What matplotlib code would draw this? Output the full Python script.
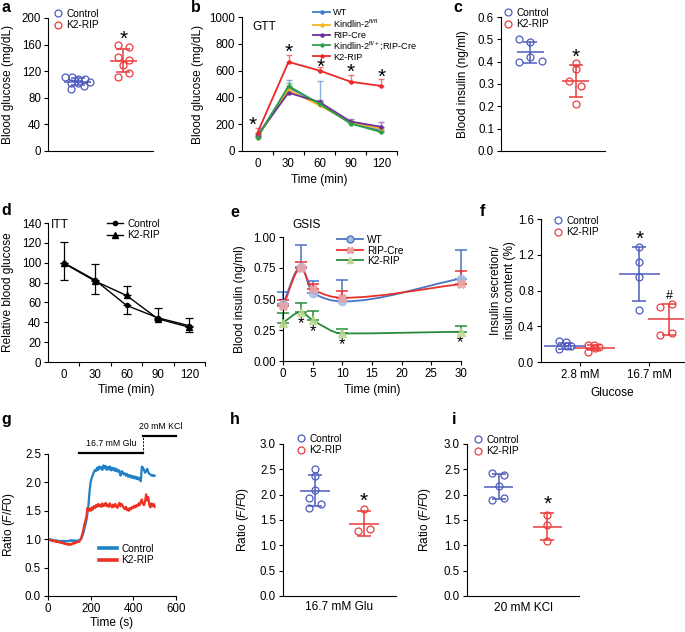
import numpy as np
import matplotlib
matplotlib.use('Agg')
import matplotlib.pyplot as plt
from matplotlib.lines import Line2D
from matplotlib.path import Path
from matplotlib.patches import PathPatch

plt.rcParams['font.family'] = ['Liberation Sans', 'DejaVu Sans']
plt.rcParams['mathtext.fontset'] = 'custom'
plt.rcParams['mathtext.rm'] = 'Liberation Sans'
plt.rcParams['mathtext.it'] = 'Liberation Sans:italic'
plt.rcParams['font.size'] = 8
plt.rcParams['axes.linewidth'] = 0.8

# ---------------- data ----------------
# a: fasting blood glucose
a_ctrl = [111, 111, 108.5, 108, 102, 104.5, 98, 93.5, 103]
a_k2 = [159, 156, 142, 137, 129, 118, 112]
a_mean = [104, 136]
a_sd = [5.5, 17]

# b: GTT
gtt_time = [0, 30, 60, 90, 120]
gtt_names = ['WT', r'Kindlin-2$^{\mathrm{fl/fl}}$', 'RIP-Cre',
             r'Kindlin-2$^{\mathrm{fl/+}}$;RIP-Cre', 'K2-RIP']
gtt_wt = [112, 474, 355, 210, 150]
gtt_flfl = [105, 455, 340, 215, 165]
gtt_ripcre = [115, 435, 365, 220, 180]
gtt_flplus = [100, 485, 352, 205, 140]
gtt_k2 = [136, 665, 600, 517, 485]
gtt_wt_err = [15, 55, 170, 15, 15]
gtt_flfl_err = [12, 20, 15, 12, 15]
gtt_ripcre_err = [12, 15, 15, 20, 35]
gtt_flplus_err = [10, 25, 15, 10, 12]
gtt_k2_err = [33, 50, 28, 50, 50]

# c: blood insulin
c_ctrl = [0.500, 0.488, 0.421, 0.399, 0.402]
c_k2 = [0.392, 0.365, 0.314, 0.293, 0.210]
c_mean = [0.442, 0.315]
c_sd = [0.046, 0.071]

# d: ITT
itt_time = [0, 30, 60, 90, 120]
itt_ctrl = [100, 82.5, 57, 44.5, 36.5]
itt_k2 = [99.5, 81.5, 67, 43.5, 35]
itt_ctrl_err = [17, 14, 9, 2, 6]
itt_k2_err = [21, 17, 9.5, 10.5, 9]

# e: GSIS
gsis_time = [0, 3, 5, 10, 30]
gsis_wt = [0.46, 0.76, 0.55, 0.48, 0.665]
gsis_ripcre = [0.44, 0.75, 0.58, 0.51, 0.62]
gsis_k2 = [0.31, 0.395, 0.33, 0.222, 0.236]
gsis_wt_err = [0.10, 0.175, 0.095, 0.17, 0.23]
gsis_ripcre_err = [0.05, 0.05, 0.045, 0.055, 0.105]
gsis_k2_err = [0.08, 0.075, 0.07, 0.04, 0.048]

# f: insulin secretion / content
f_groups = ['2.8 mM', '16.7 mM']
f_ctrl = [[0.23, 0.22, 0.14, 0.18, 0.18], [1.29, 1.12, 0.95, 0.58]]
f_k2 = [[0.195, 0.195, 0.169, 0.112, 0.16], [0.611, 0.644, 0.307, 0.33]]
f_ctrl_mean = [0.18, 0.985]
f_ctrl_sd = [0.035, 0.30]
f_k2_mean = [0.16, 0.476]
f_k2_sd = [0.03, 0.17]

# g: calcium traces
g_time = np.arange(0, 505, 5)
g_ctrl = [1.00, 0.99, 1.00, 0.98, 0.99, 0.98, 0.98, 0.97, 0.98, 0.97,
          0.97, 0.96, 0.97, 0.96, 0.97, 0.97, 0.96, 0.97, 0.96, 0.97,
          0.97, 0.98, 0.97, 0.98, 0.97, 0.98, 0.97, 0.97, 0.98, 0.98,
          0.98, 1.00, 1.05, 1.10, 1.18, 1.25, 1.33, 1.45, 1.62, 1.85,
          2.00, 2.08, 2.13, 2.18, 2.22, 2.20, 2.26, 2.22, 2.28, 2.24,
          2.27, 2.22, 2.30, 2.25, 2.29, 2.22, 2.27, 2.23, 2.28, 2.21,
          2.26, 2.22, 2.25, 2.20, 2.24, 2.19, 2.22, 2.18, 2.12, 2.20,
          2.18, 2.14, 2.16, 2.12, 2.15, 2.10, 2.13, 2.09, 2.12, 2.08,
          2.11, 2.07, 2.10, 2.06, 2.09, 2.05, 2.08, 2.02, 2.28, 2.26,
          2.22, 2.17, 2.20, 2.24, 2.18, 2.15, 2.14, 2.12, 2.13, 2.11,
          2.12]
g_k2 = [1.00, 0.99, 0.98, 0.99, 0.97, 0.98, 0.96, 0.97, 0.95, 0.96,
        0.95, 0.94, 0.95, 0.93, 0.94, 0.92, 0.93, 0.91, 0.92, 0.90,
        0.92, 0.90, 0.91, 0.93, 0.92, 0.94, 0.93, 0.95, 0.96, 0.95,
        0.98, 1.02, 1.08, 1.15, 1.25, 1.32, 1.40, 1.55, 1.50, 1.54,
        1.50, 1.56, 1.52, 1.58, 1.55, 1.60, 1.57, 1.62, 1.58, 1.61,
        1.57, 1.63, 1.58, 1.60, 1.64, 1.58, 1.61, 1.57, 1.63, 1.59,
        1.56, 1.61, 1.57, 1.62, 1.58, 1.55, 1.60, 1.64, 1.58, 1.62,
        1.59, 1.55, 1.53, 1.57, 1.51, 1.54, 1.50, 1.55, 1.53, 1.57,
        1.55, 1.59, 1.56, 1.60, 1.58, 1.63, 1.60, 1.66, 1.70, 1.62,
        1.60, 1.66, 1.79, 1.68, 1.74, 1.60, 1.56, 1.63, 1.58, 1.62,
        1.57]
glu_period = [145, 447]
kcl_period = [447, 600]

# h / i: Ca ratio
h_ctrl = [2.51, 2.37, 2.10, 1.93, 1.82, 1.73]
h_k2 = [1.71, 1.32, 1.28]
h_mean = [2.08, 1.43]
h_sd = [0.31, 0.24]
i_ctrl = [2.43, 2.38, 2.17, 1.90, 1.94]
i_k2 = [1.60, 1.41, 1.08]
i_mean = [2.16, 1.37]
i_sd = [0.245, 0.265]

# ---------------- layout / style ----------------
W, H = 685, 632
BLUE = '#4d5cbd'
RED = '#ea3c3c'
TICK_FS = 8.3
LAB_FS = 8.6
LEG_FS = 7.3
STAR_FS = 15

# horizontal jitter of dots (data units)
a_jit = [[-0.27, -0.12, 0, 0.15, -0.14, 0.28, 0.13, -0.14, 0.0],
         [-0.12, 0.12, -0.12, 0.12, 0, 0.12, -0.12]]
c_jit = [[-0.26, 0, 0, -0.26, 0.26], [0, 0, -0.14, 0.13, 0]]
h_jit = [[0, 0, 0, -0.13, 0.12, -0.13], [0, 0.12, -0.12]]
i_jit = [[-0.14, 0.12, 0, -0.14, 0.12], [0, 0, 0]]
# f: per glucose level -> [control, K2-RIP]
f_jit = [[[-0.09, 0.01, -0.08, 0.09, 0.03], [-0.09, 0.0, 0.08, -0.09, 0.02]],
         [[0, 0, 0, 0], [-0.13, 0.05, -0.13, 0.05]]]

fig = plt.figure(figsize=(W / 100, H / 100), dpi=100)


def add_ax(l, t, r, b):
    ax = fig.add_axes([l / W, 1 - b / H, (r - l) / W, (b - t) / H])
    ax.rect_px = (l, t, r, b)
    ax.spines['top'].set_visible(False)
    ax.spines['right'].set_visible(False)
    ax.tick_params(direction='out', length=3, width=0.8, labelsize=TICK_FS, pad=2)
    return ax


def ylab(ax, text, right_px):
    l, t, r, b = ax.rect_px
    ax.set_ylabel(text, fontsize=LAB_FS)
    ax.yaxis.set_label_coords((right_px - l) / (r - l), 0.5)


def xlab(ax, text, top_px):
    l, t, r, b = ax.rect_px
    ax.set_xlabel(text, fontsize=LAB_FS, va='top')
    ax.xaxis.set_label_coords(0.5, (b - top_px) / (b - t))


def ftext(x, y, s, **kw):
    fig.text(x / W, 1 - y / H, s, **kw)


def legend(ax, handles, labels, x, y, **kw):
    opts = dict(loc='upper left', bbox_to_anchor=(x / W, 1 - y / H),
                bbox_transform=fig.transFigure, frameon=False, borderpad=0,
                borderaxespad=0, fontsize=LEG_FS, labelspacing=0.12,
                handletextpad=0.4)
    opts.update(kw)
    ax.legend(handles, labels, **opts)


def dots(ax, centers, vals, jit, means, sds, colors):
    for c, v, j, m, s, col in zip(centers, vals, jit, means, sds, colors):
        ax.plot(c + np.array(j), v, 'o', mfc='none', mec=col, ms=5, mew=0.9,
                zorder=3, clip_on=False)
        ax.hlines(m, c - 0.3, c + 0.3, color=col, lw=1.1, zorder=2)
        ax.errorbar(c, m, yerr=s, color=col, lw=1.1, capsize=5, capthick=1.1,
                    zorder=2)


def dot_legend(ax, x, y):
    hs = [Line2D([], [], ls='none', marker='o', mfc='none', mec=BLUE, ms=5, mew=0.9),
          Line2D([], [], ls='none', marker='o', mfc='none', mec=RED, ms=5, mew=0.9)]
    legend(ax, hs, ['Control', 'K2-RIP'], x, y, handlelength=0.8)


def star(ax, x, y, s='*', fs=STAR_FS):
    ax.text(x, y, s, ha='center', va='center', fontsize=fs)


def smooth(ax, x, y, **kw):
    # monotone cubic segments drawn as bezier curves through the points
    x = np.asarray(x, float)
    y = np.asarray(y, float)
    h = np.diff(x)
    d = np.diff(y) / h
    m = np.zeros_like(y)
    m[0], m[-1] = d[0], d[-1]
    for k in range(1, len(x) - 1):
        if d[k - 1] * d[k] > 0:
            w1 = 2 * h[k] + h[k - 1]
            w2 = h[k] + 2 * h[k - 1]
            m[k] = (w1 + w2) / (w1 / d[k - 1] + w2 / d[k])
    verts = [(x[0], y[0])]
    codes = [Path.MOVETO]
    for k in range(len(x) - 1):
        verts += [(x[k] + h[k] / 3, y[k] + m[k] * h[k] / 3),
                  (x[k + 1] - h[k] / 3, y[k + 1] - m[k + 1] * h[k] / 3),
                  (x[k + 1], y[k + 1])]
        codes += [Path.CURVE4] * 3
    ax.add_patch(PathPatch(Path(verts, codes), fill=False, **kw))


# ---------------- a ----------------
ax = add_ax(48, 18, 153, 151)
dots(ax, [0, 1], [a_ctrl, a_k2], a_jit, a_mean, a_sd, [BLUE, RED])
ax.set_xlim(-0.65, 1.65)
ax.set_ylim(0, 200)
ax.set_yticks(np.arange(0, 201, 40))
ax.set_xticks([])
star(ax, 1, 168)
ylab(ax, 'Blood glucose (mg/dL)', 14)
dot_legend(ax, 54, 9)

# ---------------- b ----------------
ax = add_ax(242, 17, 397, 151)
b_series = [gtt_wt, gtt_flfl, gtt_ripcre, gtt_flplus, gtt_k2]
b_errs = [gtt_wt_err, gtt_flfl_err, gtt_ripcre_err, gtt_flplus_err, gtt_k2_err]
b_cols = ['#3d7cc9', '#f6b81c', '#6a2e9b', '#2fa048', '#ec2727']
for vals, err, col in zip(b_series, b_errs, b_cols):
    ax.errorbar(gtt_time, vals, yerr=[np.zeros(len(err)), err], fmt='none',
                ecolor=col, alpha=0.6, lw=1.0, capsize=2.5, capthick=1.0)
for vals, col in zip(b_series, b_cols):
    ax.plot(gtt_time, vals, '-', color=col, lw=1.3, marker='o', ms=2.2)
ax.set_xlim(-15, 135)
ax.set_ylim(0, 1000)
ax.set_xticks(gtt_time)
ax.set_xticks([15, 45, 75, 105, 135], minor=True)
ax.tick_params(axis='x', which='major', length=0, pad=5)
ax.tick_params(axis='x', which='minor', length=3, width=0.8)
ax.set_yticks(np.arange(0, 1001, 200))
for tx, ty in zip([-5, 30, 61, 90, 120], [195, 735, 625, 588, 550]):
    star(ax, tx, ty)
ylab(ax, 'Blood glucose (mg/dL)', 204)
xlab(ax, 'Time (min)', 174)
ftext(264, 27, 'GTT', ha='center', va='center', fontsize=LAB_FS)
# legend drawn row by row to match the tight spacing of the original
for row_y, name, col in zip([12.0, 24.6, 34.6, 45.4, 56.4], gtt_names, b_cols):
    fig.add_artist(Line2D([313 / W, 321.5 / W, 330 / W], [1 - row_y / H] * 3,
                          transform=fig.transFigure, color=col, lw=1.3,
                          marker='o', ms=2.2, markevery=[1]))
    ftext(333, row_y + 3.4, name, fontsize=6.6, va='baseline', ha='left')

# ---------------- c ----------------
ax = add_ax(501, 17, 605, 151)
dots(ax, [0, 1], [c_ctrl, c_k2], c_jit, c_mean, c_sd, [BLUE, RED])
ax.set_xlim(-0.65, 1.65)
ax.set_ylim(0, 0.6)
ax.set_yticks(np.arange(0, 0.61, 0.1))
ax.yaxis.set_major_formatter('{x:.1f}')
ax.set_xticks([])
star(ax, 1, 0.418)
ylab(ax, 'Blood insulin (ng/ml)', 469)
dot_legend(ax, 504, 8)

# ---------------- d ----------------
ax = add_ax(48, 223, 205, 362)
ax.errorbar(itt_time, itt_ctrl, yerr=[itt_ctrl_err, np.zeros(5)], fmt='none',
            ecolor='k', lw=0.9, capsize=3, capthick=0.9)
ax.errorbar(itt_time, itt_k2, yerr=[np.zeros(5), itt_k2_err], fmt='none',
            ecolor='k', lw=0.9, capsize=3, capthick=0.9)
ax.plot(itt_time, itt_ctrl, '-', color='k', lw=1.0, marker='o', ms=3)
ax.plot(itt_time, itt_k2, '-', color='k', lw=1.0, marker='^', ms=5)
ax.set_xlim(-15, 135)
ax.set_ylim(0, 140)
ax.set_xticks(itt_time)
ax.set_xticks([15, 45, 75, 105, 135], minor=True)
ax.tick_params(axis='x', which='major', length=0, pad=5)
ax.tick_params(axis='x', which='minor', length=3, width=0.8)
ax.set_yticks(np.arange(0, 141, 20))
ylab(ax, 'Relative blood glucose', 14)
xlab(ax, 'Time (min)', 384)
ftext(60, 225, 'ITT', ha='center', va='center', fontsize=LAB_FS)
hs = [Line2D([], [], color='k', lw=1.0, marker='o', ms=3),
      Line2D([], [], color='k', lw=1.0, marker='^', ms=5)]
legend(ax, hs, ['Control', 'K2-RIP'], 107, 219, handlelength=1.6)

# ---------------- e ----------------
ax = add_ax(283, 237, 461, 361)
e_series = [gsis_wt, gsis_ripcre, gsis_k2]
e_errs = [gsis_wt_err, gsis_ripcre_err, gsis_k2_err]
e_cols = ['#4a74c4', '#e8302c', '#2a8a3a']
e_mk = ['o', 'X', '^']
e_mfc = ['#a8bfe6', '#eba3a3', '#bcd890']
for vals, err, col in zip(e_series, e_errs, e_cols):
    ax.errorbar(gsis_time, vals, yerr=[np.zeros(5), err], fmt='none',
                ecolor=col, lw=1.1, capsize=4, capthick=1.1, clip_on=False)
for vals, col, mk, mfc in zip(e_series, e_cols, e_mk, e_mfc):
    smooth(ax, gsis_time, vals, edgecolor=col, lw=1.3)
    ax.plot(gsis_time, vals, ls='none', marker=mk, ms=6, mfc=mfc, mec=mfc,
            alpha=0.85, clip_on=False, zorder=4)
ax.set_xlim(0, 30)
ax.set_ylim(0, 1.0)
ax.set_xticks(np.arange(0, 31, 5))
ax.set_yticks([0, 0.25, 0.5, 0.75, 1.0])
ax.yaxis.set_major_formatter('{x:.2f}')
for tx, ty in zip([3.1, 5.0, 9.9, 29.8], [0.30, 0.235, 0.135, 0.15]):
    star(ax, tx, ty, fs=12)
ylab(ax, 'Blood insulin (ng/ml)', 246)
xlab(ax, 'Time (min)', 384)
ftext(307, 225, 'GSIS', ha='center', va='center', fontsize=LAB_FS)
hs = [Line2D([], [], color=c, lw=1.3, marker=m, ms=5, mfc=f, mec=c if m == 'o' else f)
      for c, m, f in zip(e_cols, e_mk, e_mfc)]
legend(ax, hs, ['WT', 'RIP-Cre', 'K2-RIP'], 337, 235, handlelength=2.6,
       labelspacing=0.05)

# ---------------- f ----------------
ax = add_ax(541, 219, 684, 362)
f_ctrl_x = [-0.22, 0.86]
f_k2_x = [0.20, 1.29]
for gi in range(2):
    dots(ax, [f_ctrl_x[gi], f_k2_x[gi]], [f_ctrl[gi], f_k2[gi]], f_jit[gi],
         [f_ctrl_mean[gi], f_k2_mean[gi]], [f_ctrl_sd[gi], f_k2_sd[gi]],
         [BLUE, RED])
ax.set_xlim(-0.565, 1.507)
ax.set_ylim(0, 1.6)
ax.set_xticks([0, 1])
ax.set_xticklabels(f_groups)
ax.set_yticks(np.arange(0, 1.61, 0.4))
ax.yaxis.set_major_formatter('{x:.1f}')
star(ax, f_ctrl_x[1], 1.375)
star(ax, f_k2_x[1], 0.74, s='#', fs=9)
ylab(ax, 'Insulin secretion/\ninsulin content (%)', 516)
xlab(ax, 'Glucose', 387)
dot_legend(ax, 554, 216)

# ---------------- g ----------------
ax = add_ax(48, 454, 176, 596)
ax.plot(g_time, g_ctrl, color='#1f80c8', lw=1.6, label='Control')
ax.plot(g_time, g_k2, color='#ec3323', lw=1.6, label='K2-RIP')
ax.set_xlim(0, 600)
ax.set_ylim(0, 2.5)
ax.set_xticks(np.arange(0, 601, 200))
ax.set_yticks(np.arange(0, 2.51, 0.5))
ax.yaxis.set_major_formatter('{x:.1f}')
ax.plot(glu_period, [2.52, 2.52], color='k', lw=1.6, clip_on=False)
ax.plot(kcl_period, [2.81, 2.81], color='k', lw=1.6, clip_on=False)
ax.plot([glu_period[1]] * 2, [2.52, 2.81], color='k', lw=0.7, ls=(0, (2, 1.5)),
        clip_on=False)
ax.text(sum(glu_period) / 2, 2.68, '16.7 mM Glu', ha='center', va='center',
        fontsize=6.3)
ax.text(530, 2.98, '20 mM KCl', ha='center', va='center', fontsize=6.3)
ylab(ax, r'Ratio ($\mathit{F/F0}$)', 17)
xlab(ax, 'Time (s)', 617)
hs = [Line2D([], [], color='#1f80c8', lw=2.6), Line2D([], [], color='#ec3323', lw=2.6)]
legend(ax, hs, ['Control', 'K2-RIP'], 99, 544, handlelength=1.8)

# ---------------- h ----------------
ax = add_ax(283, 444, 396, 596)
dots(ax, [0, 1], [h_ctrl, h_k2], h_jit, h_mean, h_sd, [BLUE, RED])
ax.set_xlim(-0.65, 1.65)
ax.set_ylim(0, 3)
ax.set_yticks(np.arange(0, 3.01, 0.5))
ax.yaxis.set_major_formatter('{x:.1f}')
ax.set_xticks([])
star(ax, 1, 1.86)
ylab(ax, r'Ratio ($\mathit{F/F0}$)', 251)
xlab(ax, '16.7 mM Glu', 601)
dot_legend(ax, 297, 434)

# ---------------- i ----------------
ax = add_ax(467, 444, 579, 596)
dots(ax, [0, 1], [i_ctrl, i_k2], i_jit, i_mean, i_sd, [BLUE, RED])
ax.set_xlim(-0.65, 1.65)
ax.set_ylim(0, 3)
ax.set_yticks(np.arange(0, 3.01, 0.5))
ax.yaxis.set_major_formatter('{x:.1f}')
ax.set_xticks([])
star(ax, 1, 1.80)
ylab(ax, r'Ratio ($\mathit{F/F0}$)', 433)
xlab(ax, '20 mM KCl', 602)
dot_legend(ax, 474, 435)

# ---------------- panel letters ----------------
for letter, x, y in [('a', 1, 12), ('b', 191, 12), ('c', 453, 12),
                     ('d', 1, 215), ('e', 230, 217), ('f', 480, 216),
                     ('g', 1, 424), ('h', 230, 424), ('i', 452, 424)]:
    ftext(x, y, letter, fontsize=11.5, fontweight='bold', va='baseline')

fig.savefig('out.png', dpi=100)
